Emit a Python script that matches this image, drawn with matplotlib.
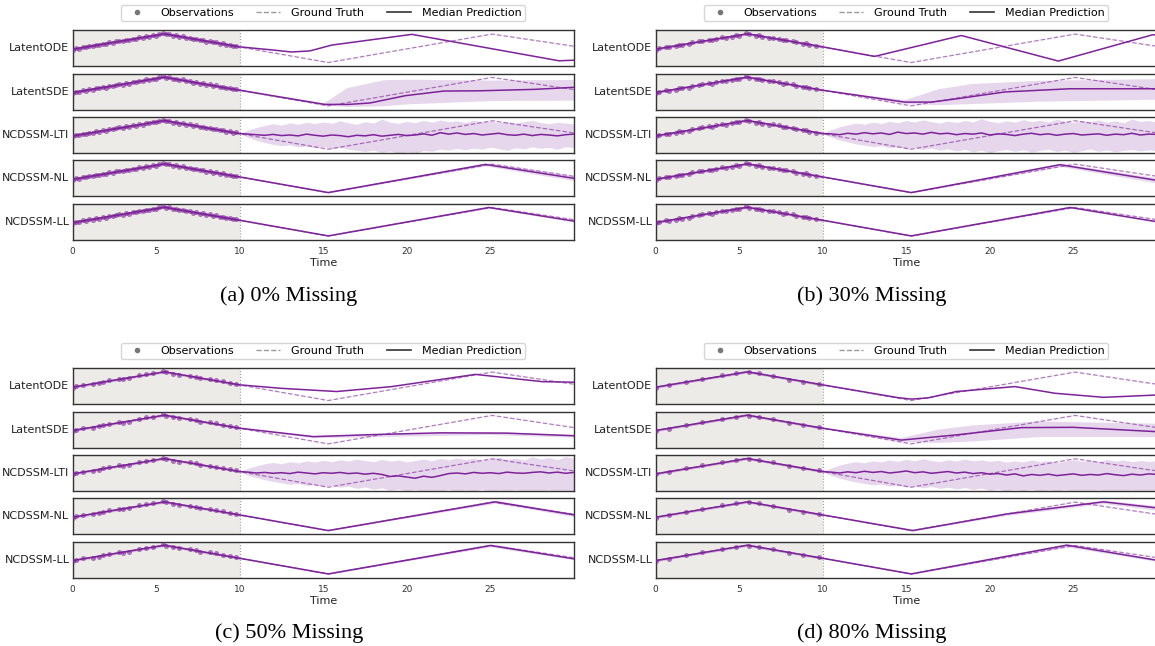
import numpy as np
import matplotlib.pyplot as plt
from matplotlib.lines import Line2D

# ---- data -------------------------------------------------------------
panels = ["a", "b", "c", "d"]
captions = {"a": "(a) 0% Missing", "b": "(b) 30% Missing",
            "c": "(c) 50% Missing", "d": "(d) 80% Missing"}
models = ["LatentODE", "LatentSDE", "NCDSSM-LTI", "NCDSSM-NL", "NCDSSM-LL"]
time_ticks = [0, 5, 10, 15, 20, 25]

# ground truth (triangle-like trajectory)
gt_t = [0, 5.5, 15.3, 25.1, 30]
gt_y = [0.3, 5.6, -4.3, 5.5, 1.3]

# reconstruction part of every median (context window 0..10)
ctx_t = [0, 5.5]
ctx_y = [0.3, 5.6]
ctx_band_t = [0, 5.5, 10]
ctx_band_lo = [-0.1, 5.2, 0.7]
ctx_band_hi = [0.7, 6.0, 1.5]

# observations in the context window
obs_t = np.arange(0, 10, 0.2)
obs_y = [0.1, 0.6, 0.5, 1.1, 0.9, 1.4, 1.3, 1.9, 1.7, 2.2,
         2.0, 2.7, 2.5, 3.0, 3.2, 3.0, 3.6, 3.4, 3.9, 3.8,
         4.4, 4.2, 4.8, 4.6, 5.1, 5.0, 5.5, 5.9, 5.4, 5.5,
         4.9, 5.1, 4.5, 4.8, 4.2, 4.3, 3.7, 3.9, 3.4, 3.5,
         2.9, 3.1, 2.6, 2.8, 2.2, 2.3, 1.8, 1.9, 1.4, 1.5]
obs_keep = {
    "a": list(range(50)),
    "b": [0, 1, 3, 4, 6, 7, 8, 10, 11, 13, 14, 16, 17, 18, 20, 21, 23, 24,
          25, 27, 28, 30, 31, 32, 34, 35, 37, 38, 39, 41, 42, 44, 45, 46, 48],
    "c": [0, 1, 3, 6, 8, 9, 11, 14, 15, 17, 20, 22, 24, 27, 28, 30, 32, 35,
          37, 38, 41, 43, 45, 47, 49],
    "d": [0, 4, 9, 14, 20, 24, 28, 31, 35, 40, 44, 49],
}

# LatentODE forecast medians
ode_t = {"a": [10, 12, 13.1, 14.2, 15.5, 20.3, 29.1, 30],
         "b": [10, 13.1, 18.3, 24.1, 29.7, 30],
         "c": [10, 12.5, 15.8, 19.1, 24.1, 28.1, 30],
         "d": [10, 14.5, 15.3, 16.3, 18, 21.5, 23.9, 26.8, 30]}
ode_y = {"a": [1.1, 0.0, -0.67, -0.3, 1.7, 5.4, -3.7, -3.5],
         "b": [1.1, -2.2, 5.0, -3.8, 5.2, 5.3],
         "c": [1.1, -0.1, -1.2, 0.5, 4.7, 2.2, 2.0],
         "d": [1.1, -3.3, -3.8, -3.4, -1.2, 0.5, -1.8, -3.2, -2.4]}

# LatentSDE forecast medians and bands
sde_t = {"a": [10, 15.1, 16.5, 17.8, 19.9, 22.2, 24.4, 27.7, 30],
         "b": [10, 14.9, 16.5, 18.1, 20.9, 24.8, 30],
         "c": [10, 14.4, 18, 22, 26, 30],
         "d": [10, 14.7, 18, 21.9, 25, 30]}
sde_y = {"a": [1.1, -3.8, -3.8, -3.3, -0.8, 0.8, 0.9, 1.4, 2.1],
         "b": [1.1, -3.0, -3.0, -1.8, 0.5, 1.6, 1.6],
         "c": [1.1, -1.8, -1.1, -0.5, -0.6, -1.5],
         "d": [1.1, -3.0, -1.2, 1.3, 1.4, -0.1]}
sde_band_t = {"a": [10, 15, 16.4, 18.6, 20, 25, 30],
              "b": [10, 14.9, 16.9, 18.9, 22.9, 30],
              "c": [10, 14.4, 20, 25, 30],
              "d": [10, 14.7, 16.9, 18.9, 22.9, 30]}
sde_lo = {"a": [1.0, -4.0, -4.5, -4.3, -3.6, -2.5, -2.3],
          "b": [1.0, -3.5, -3.9, -3.5, -2.7, -2.0],
          "c": [1.0, -2.2, -1.6, -1.1, -2.0],
          "d": [1.0, -3.5, -3.8, -3.3, -1.8, -1.8]}
sde_hi = {"a": [1.2, -3.3, 2.0, 4.7, 4.9, 4.6, 4.8],
          "b": [1.2, -2.1, 1.6, 3.4, 4.5, 5.1],
          "c": [1.2, -1.4, -0.5, -0.1, -1.0],
          "d": [1.2, -2.1, 0.8, 2.2, 3.6, 2.8]}

# NCDSSM-LTI forecast (every 0.5 from t=10 to t=30)
lti_med = {
    "a": [1.1, 0.9, 0.7, 0.5, 0.8, 0.4, 0.6, 0.3, 0.9, 0.5,
          0.2, 0.6, 0.4, 0.0, 0.5, 0.3, 0.7, 0.2, 0.5, 0.8,
          0.4, 0.6, 1.0, 0.5, 1.4, 0.9, 1.3, 0.8, 1.1, 0.6,
          0.9, 1.2, 0.7, 0.5, 0.9, 0.4, 0.8, 0.6, 0.3, 0.7, 0.9],
    "b": [1.1, 1.0, 0.7, 1.2, 0.9, 1.4, 1.0, 1.3, 0.8, 1.6,
          1.1, 1.3, 0.9, 1.5, 1.0, 1.2, 0.7, 1.1, 0.9, 1.3,
          0.6, 1.0, 0.8, 0.4, 0.9, 1.2, 0.7, 1.0, 0.5, 0.9,
          1.1, 0.6, 0.8, 1.0, 0.5, 0.9, 0.7, 1.2, 0.6, 0.9, 0.8],
    "c": [1.1, 0.9, 0.6, 0.8, 0.5, 0.7, 0.4, 0.9, 0.6, 0.3,
          0.7, 0.5, 0.8, 0.4, 0.6, 0.2, 0.5, 0.1, -0.6, -0.4,
          -0.8, -1.2, -0.5, -0.9, -0.3, 0.4, 0.6, 0.3, 0.8, 0.5,
          0.7, 0.4, 0.9, 0.6, 0.5, 0.8, 1.0, 0.6, 0.9, 0.5, 0.8],
    "d": [1.1, 0.9, 0.6, 1.0, 0.7, 1.2, 0.8, 1.1, 0.6, 0.9,
          1.3, 0.7, 1.0, 0.5, 0.8, 1.1, 0.6, 0.9, 0.4, 0.7,
          0.2, 0.4, -0.1, 0.3, -0.4, 0.1, -0.2, 0.2, -0.3, 0.0,
          0.3, -0.2, 0.1, -0.1, 0.4, 0.0, -0.3, 0.2, -0.1, 0.3, 0.1],
}
lti_hi = {
    "a": [1.2, 2.3, 3.2, 3.9, 4.5, 4.0, 4.8, 4.3, 5.0, 4.5,
          5.1, 4.6, 5.5, 4.8, 4.3, 5.2, 4.7, 6.1, 5.0, 4.6,
          5.3, 4.8, 5.6, 5.0, 5.8, 5.2, 5.5, 4.9, 5.7, 5.1,
          5.4, 4.8, 5.3, 4.7, 5.2, 5.6, 4.9, 4.5, 5.0, 4.7, 4.4],
    "b": [1.2, 2.4, 3.4, 4.1, 4.7, 4.3, 5.0, 4.6, 5.3, 4.8,
          5.6, 5.1, 5.8, 5.2, 4.7, 5.4, 4.9, 5.6, 5.1, 6.2,
          5.3, 4.8, 5.5, 5.0, 5.9, 5.2, 5.7, 5.1, 6.0, 5.4,
          4.9, 5.6, 5.2, 5.8, 5.0, 5.5, 4.8, 6.1, 5.3, 5.6, 5.0],
    "c": [1.2, 2.2, 3.1, 3.8, 4.2, 3.8, 4.5, 4.1, 4.8, 4.4,
          5.0, 4.5, 5.2, 4.7, 5.4, 4.9, 4.5, 5.3, 4.7, 5.1,
          4.4, 4.9, 5.4, 4.8, 5.6, 5.1, 5.8, 5.2, 5.7, 5.0,
          5.5, 6.0, 5.3, 5.7, 5.1, 6.2, 5.4, 5.9, 5.2, 6.3, 5.6],
    "d": [1.2, 2.3, 3.3, 4.0, 4.5, 4.1, 4.8, 4.4, 5.1, 4.6,
          5.3, 4.8, 5.5, 4.9, 4.5, 5.2, 4.7, 5.4, 4.8, 5.1,
          4.6, 5.0, 4.3, 4.8, 4.4, 5.1, 4.5, 4.9, 4.2, 4.7,
          5.2, 4.6, 5.0, 4.4, 5.3, 4.7, 5.1, 4.5, 4.9, 4.6, 4.8],
}
lti_lo = {
    "a": [1.0, -0.2, -1.2, -2.0, -2.6, -3.1, -2.8, -3.5, -3.2, -3.8,
          -3.4, -4.1, -3.6, -4.3, -4.7, -5.1, -4.6, -5.4, -4.9, -5.8,
          -5.2, -5.7, -4.7, -5.0, -4.3, -4.6, -4.0, -4.5, -3.9, -4.3,
          -3.6, -4.1, -4.7, -3.8, -4.2, -3.5, -4.0, -3.7, -4.3, -3.4, -3.8],
    "b": [1.0, -0.1, -1.1, -1.8, -2.5, -2.9, -3.4, -3.1, -3.8, -3.5,
          -4.1, -3.7, -4.4, -3.9, -4.6, -4.2, -4.9, -4.3, -5.2, -4.6,
          -5.5, -4.8, -4.4, -5.0, -4.5, -5.3, -4.7, -4.3, -5.1, -4.6,
          -5.4, -4.8, -4.2, -5.0, -4.5, -5.2, -4.7, -4.4, -4.9, -4.5, -4.8],
    "c": [1.0, -0.2, -1.0, -1.7, -2.3, -2.8, -3.3, -3.0, -3.7, -3.4,
          -4.0, -3.6, -4.3, -3.9, -4.7, -4.2, -5.0, -4.5, -5.4, -4.9,
          -5.6, -5.1, -5.9, -5.3, -5.8, -5.0, -6.0, -5.2, -5.7, -4.9,
          -6.1, -5.3, -5.8, -5.1, -6.0, -5.4, -5.9, -5.2, -6.1, -5.5, -5.8],
    "d": [1.0, -0.2, -1.2, -1.9, -2.5, -3.0, -3.5, -3.2, -3.9, -3.6,
          -4.2, -3.8, -4.5, -4.0, -4.7, -4.3, -4.9, -4.4, -5.1, -4.6,
          -5.4, -4.9, -5.6, -5.1, -5.5, -5.0, -5.8, -5.2, -5.6, -5.1,
          -5.9, -5.4, -5.7, -5.2, -6.0, -5.5, -5.8, -5.3, -6.1, -5.6, -5.9],
}

# NCDSSM-NL / NCDSSM-LL forecast medians and band half-widths
nl_t = {"a": [10, 15.3, 24.7, 30], "b": [10, 15.3, 24.2, 30],
        "c": [10, 15.3, 25.3, 30], "d": [10, 15.4, 21, 26.8, 30]}
nl_y = {"a": [1.1, -4.3, 5.4, 0.6], "b": [1.1, -4.3, 5.3, -0.1],
        "c": [1.1, -4.3, 5.6, 1.1], "d": [1.1, -4.3, 1.4, 5.6, 3.5]}
nl_w = {"a": [0.1, 0.1, 0.5, 0.8], "b": [0.1, 0.1, 0.6, 0.9],
        "c": [0.1, 0.1, 0.5, 0.6], "d": [0.1, 0.1, 0.5, 0.6, 0.8]}
ll_t = {"a": [10, 15.3, 24.9, 30], "b": [10, 15.3, 24.8, 30],
        "c": [10, 15.3, 25.0, 30], "d": [10, 15.3, 24.6, 30]}
ll_y = {"a": [1.1, -4.3, 5.5, 0.8], "b": [1.1, -4.3, 5.5, 0.6],
        "c": [1.1, -4.3, 5.5, 0.9], "d": [1.1, -4.3, 5.6, 0.4]}
ll_w = {"a": [0.1, 0.1, 0.2, 0.3], "b": [0.1, 0.1, 0.2, 0.3],
        "c": [0.1, 0.1, 0.5, 0.3], "d": [0.1, 0.1, 0.6, 0.4]}

# ---- style / layout ----------------------------------------------------
PURPLE = "#7d2399"
W, H = 1155, 646
panel_left = {"a": 72.5, "b": 655.5, "c": 72.5, "d": 655.5}
panel_top = {"a": 30.3, "b": 30.3, "c": 368.3, "d": 368.3}
caption_x = {"a": 289, "b": 872, "c": 289, "d": 872}
caption_y = {"a": 296, "b": 296, "c": 633, "d": 633}
AX_W, AX_H, PITCH = 501.5, 36.0, 43.35

fig = plt.figure(figsize=(W / 100, H / 100), dpi=100)


def add_px_axes(left, top, w, h):
    return fig.add_axes([left / W, 1 - (top + h) / H, w / W, h / H])


def forecast(p, m):
    """median (t, y) and band (t, lo, hi) of model m in panel p"""
    if m == "LatentODE":
        t, y = ode_t[p], ode_y[p]
        return t, y, None
    if m == "LatentSDE":
        return sde_t[p], sde_y[p], (sde_band_t[p], sde_lo[p], sde_hi[p])
    if m == "NCDSSM-LTI":
        t = np.linspace(10, 30, len(lti_med[p]))
        return t, lti_med[p], (t, lti_lo[p], lti_hi[p])
    if m == "NCDSSM-NL":
        t, y, w = nl_t[p], np.array(nl_y[p]), np.array(nl_w[p])
    else:
        t, y, w = ll_t[p], np.array(ll_y[p]), np.array(ll_w[p])
    return t, y, (t, y - w, y + w)


for p in panels:
    left, top = panel_left[p], panel_top[p]
    for i, m in enumerate(models):
        ax = add_px_axes(left, top + i * PITCH, AX_W, AX_H)
        ax.axvspan(0, 10, color="#ecebe7", lw=0, zorder=0)
        ax.axvline(10, color="#999999", ls=":", lw=0.8, zorder=1)

        t, y, band = forecast(p, m)
        ax.fill_between(ctx_band_t, ctx_band_lo, ctx_band_hi,
                        color=PURPLE, alpha=0.28, lw=0, zorder=2)
        if band is not None:
            ax.fill_between(band[0], band[1], band[2], color=PURPLE,
                            alpha=0.18, lw=0, zorder=2)
        ax.plot(gt_t, gt_y, color=PURPLE, ls="--", lw=0.9, alpha=0.6, zorder=3)
        keep = obs_keep[p]
        ax.plot(obs_t[keep], np.array(obs_y)[keep], "o", color=PURPLE,
                ms=3.6, mew=0, alpha=0.6, zorder=4)
        ax.plot(list(ctx_t) + list(t), list(ctx_y) + list(y),
                color=PURPLE, lw=1.1, zorder=5)

        ax.set_xlim(0, 30)
        ax.set_ylim(-5.6, 6.8)
        ax.set_yticks([])
        for s in ax.spines.values():
            s.set_color("#333333")
            s.set_linewidth(1.0)
        ax.text(-0.006, 0.5, m, transform=ax.transAxes, ha="right",
                va="center", fontsize=8, color="#222222")
        if i == len(models) - 1:
            ax.set_xticks(time_ticks)
            ax.tick_params(axis="x", length=0, labelsize=6.5, pad=5,
                           labelcolor="#333333")
            ax.set_xlabel("Time", fontsize=8, labelpad=2, color="#222222")
        else:
            ax.set_xticks([])

    handles = [Line2D([], [], marker="o", ls="", color="#777777", ms=3),
               Line2D([], [], ls="--", color="#999999", lw=1.0),
               Line2D([], [], ls="-", color="#333333", lw=1.2)]
    fig.legend(handles, ["Observations", "Ground Truth", "Median Prediction"],
               loc="lower center", ncol=3, fontsize=8,
               bbox_to_anchor=((left + AX_W / 2) / W, 1 - (top - 3.5) / H),
               borderpad=0.3, handlelength=2.2, columnspacing=2.0,
               handletextpad=1.0, edgecolor="#cccccc", fancybox=True)
    fig.text(caption_x[p] / W, 1 - caption_y[p] / H, captions[p],
             fontfamily="Liberation Serif", fontsize=16,
             ha="center", va="center")

fig.savefig("out.png", dpi=100)
